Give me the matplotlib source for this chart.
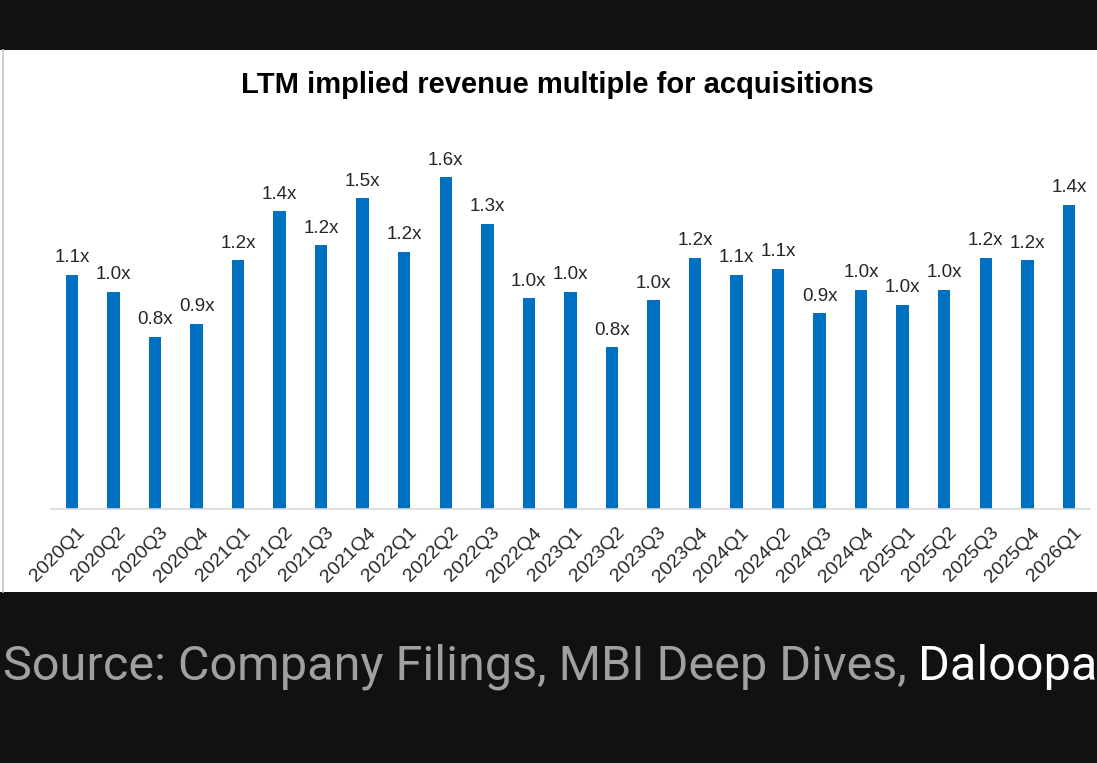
"""
LTM implied revenue multiple for acquisitions - quarterly bar chart
"""

import matplotlib
matplotlib.use("Agg")
import matplotlib.pyplot as plt
import matplotlib.transforms as mtransforms
from matplotlib.patches import Rectangle

# Data
quarters = [
    "2020Q1", "2020Q2", "2020Q3", "2020Q4",
    "2021Q1", "2021Q2", "2021Q3", "2021Q4",
    "2022Q1", "2022Q2", "2022Q3", "2022Q4",
    "2023Q1", "2023Q2", "2023Q3", "2023Q4",
    "2024Q1", "2024Q2", "2024Q3", "2024Q4",
    "2025Q1", "2025Q2", "2025Q3", "2025Q4",
    "2026Q1",
]
multiples = [
    1.10, 1.02, 0.81, 0.87,
    1.17, 1.40, 1.24, 1.46,
    1.21, 1.56, 1.34, 0.99,
    1.02, 0.76, 0.98, 1.18,
    1.10, 1.13, 0.92, 1.03,
    0.96, 1.03, 1.18, 1.17,
    1.43,
]
title = "LTM implied revenue multiple for acquisitions"
source_grey = "Source: Company Filings, MBI Deep Dives,"
source_white = "Daloopa"

# Styling
BAR_COLOR = "#0070C0"
DARK_BG = "#111111"
TEXT_COLOR = "#262626"
W, H = 1097, 763

plt.rcParams["font.family"] = ["Liberation Sans", "DejaVu Sans"]

fig = plt.figure(figsize=(W / 100, H / 100), dpi=100)
fig.patch.set_facecolor(DARK_BG)

# white chart panel (behind the axes)
fig.patches.append(Rectangle((0, 1 - 592 / H), 1, (592 - 50) / H,
                             transform=fig.transFigure, facecolor="white",
                             edgecolor="none", zorder=-2))
fig.lines.append(plt.Line2D([3 / W, 3 / W], [1 - 592 / H, 1 - 50 / H],
                            transform=fig.transFigure, color="#c8c8c8",
                            linewidth=1.2, zorder=-1))

ax = fig.add_axes([51.2 / W, (H - 509) / H, (1089.6 - 51.2) / W, 383 / H])
ax.set_facecolor("none")

x = list(range(len(quarters)))
bars = ax.bar(x, multiples, width=0.30, color=BAR_COLOR, zorder=2)

for xi, v in zip(x, multiples):
    ax.annotate(f"{v:.1f}x", xy=(xi, v), xytext=(0, 9),
                textcoords="offset points", ha="center", va="baseline",
                fontsize=13.5, color=TEXT_COLOR)

ax.set_xlim(-0.5, len(quarters) - 0.5)
ax.set_ylim(0, 1.8)

for s in ["top", "right", "left"]:
    ax.spines[s].set_visible(False)
ax.spines["bottom"].set_color("#d9d9d9")
ax.spines["bottom"].set_linewidth(1.2)
ax.set_yticks([])

ax.set_xticks(x)
ax.set_xticklabels(quarters, rotation=45, ha="right", va="top",
                   rotation_mode="anchor", fontsize=14, color=TEXT_COLOR)
ax.tick_params(axis="x", length=0, pad=11)
shift = mtransforms.ScaledTranslation(4 / 100, 0, fig.dpi_scale_trans)
for lbl in ax.get_xticklabels():
    lbl.set_transform(lbl.get_transform() + shift)

# title
fig.text(557.5 / W, (H - 93.3) / H, title, ha="center", va="baseline",
         fontsize=21, fontweight="bold", color="black")

# source line under the chart
src = fig.text(3 / W, (H - 680) / H, source_grey, ha="left", va="baseline",
               fontsize=35, color="#a0a0a0", family=["Roboto", "DejaVu Sans"])
fig.canvas.draw()
src_box = src.get_window_extent()
fig.text((src_box.x1 + 11) / W, (H - 680) / H, source_white, ha="left",
         va="baseline", fontsize=35, color="white",
         family=["Roboto", "DejaVu Sans"])

fig.savefig("out.png", dpi=100, facecolor=fig.get_facecolor())
